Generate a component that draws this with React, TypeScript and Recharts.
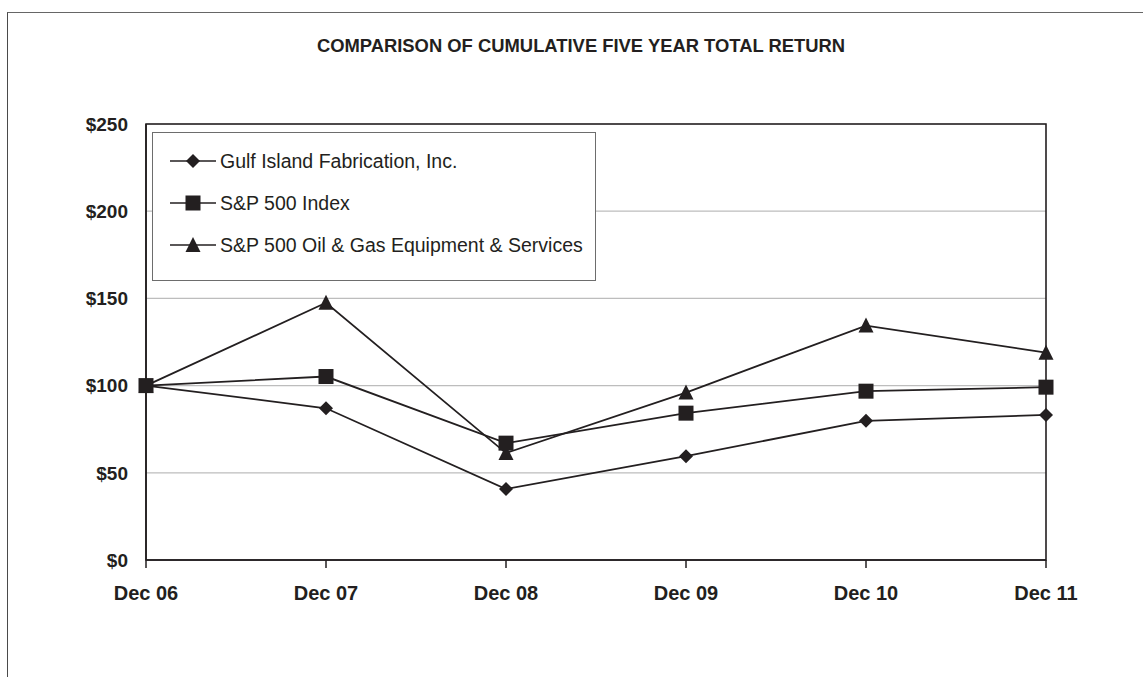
import React from 'react';
import {
  CartesianGrid,
  Legend,
  Line,
  LineChart,
  ReferenceArea,
  XAxis,
  YAxis,
} from 'recharts';

// Five-year cumulative total return, $100 invested Dec 06. Values.

const categories = ['Dec 06', 'Dec 07', 'Dec 08', 'Dec 09', 'Dec 10', 'Dec 11'];
const gulfIsland = [100, 87, 40.7, 59.5, 79.8, 83.2];
const sp500 = [100, 105.2, 67, 84.2, 96.8, 99.1];
const oilGasServices = [100, 147.5, 61.3, 96, 134.4, 118.9];
const yTicks = [0, 50, 100, 150, 200, 250];

const seriesNames = {
  gulf: 'Gulf Island Fabrication, Inc.',
  sp: 'S&P 500 Index',
  oil: 'S&P 500 Oil & Gas Equipment & Services',
};

const data = categories.map((c, i) => ({
  year: c,
  gulf: gulfIsland[i],
  sp: sp500[i],
  oil: oilGasServices[i],
}));

const INK = '#231f20';
const FONT = '"Liberation Sans", Arial, Helvetica, sans-serif';

type Mark = 'diamond' | 'square' | 'triangle';

function Marker({ kind, cx, cy }: { kind: Mark; cx: number; cy: number }) {
  if (kind === 'diamond') {
    return <polygon points={`${cx},${cy - 7} ${cx + 7},${cy} ${cx},${cy + 7} ${cx - 7},${cy}`} fill={INK} />;
  }
  if (kind === 'square') {
    return <rect x={cx - 7.5} y={cy - 7.5} width={15} height={15} fill={INK} />;
  }
  return <polygon points={`${cx},${cy - 8} ${cx + 7.5},${cy + 7} ${cx - 7.5},${cy + 7}`} fill={INK} />;
}

const dotFor = (kind: Mark) => (p: any) => (
  <Marker key={`${kind}-${p.index}`} kind={kind} cx={p.cx} cy={p.cy} />
);

const legendRows: { key: keyof typeof seriesNames; kind: Mark }[] = [
  { key: 'gulf', kind: 'diamond' },
  { key: 'sp', kind: 'square' },
  { key: 'oil', kind: 'triangle' },
];

function LegendBox() {
  return (
    <div
      style={{
        position: 'relative',
        width: 444,
        height: 149,
        boxSizing: 'border-box',
        border: '1px solid #6d6d6d',
        background: '#fff',
        fontFamily: FONT,
      }}
    >
      {legendRows.map((r, i) => (
        <div
          key={r.key}
          style={{ position: 'absolute', left: 16, top: 17 + i * 42, height: 22, display: 'flex', alignItems: 'center' }}
        >
          <svg width={48} height={22}>
            <line x1={1} y1={11} x2={47} y2={11} stroke={INK} strokeWidth={1.5} />
            <Marker kind={r.kind} cx={24} cy={11} />
          </svg>
          <span style={{ marginLeft: 3, fontSize: 19.5, color: INK, whiteSpace: 'nowrap' }}>{seriesNames[r.key]}</span>
        </div>
      ))}
    </div>
  );
}

export default function App() {
  return (
    <div style={{ position: 'fixed', left: 0, top: 0, width: 1143, height: 677, background: '#fff', overflow: 'hidden' }}>
      <div
        style={{
          position: 'absolute',
          left: 7,
          top: 12,
          width: 1200,
          height: 700,
          borderLeft: '1.5px solid #4a4a4a',
          borderTop: '1.5px solid #666',
        }}
      />
      <div
        style={{
          position: 'absolute',
          left: 281,
          top: 35,
          width: 600,
          textAlign: 'center',
          fontFamily: FONT,
          fontWeight: 700,
          fontSize: 18.4,
          color: INK,
          whiteSpace: 'nowrap',
        }}
      >
        COMPARISON OF CUMULATIVE FIVE YEAR TOTAL RETURN
      </div>
      <div style={{ position: 'absolute', left: 0, top: 0 }}>
        <LineChart
          width={1143}
          height={677}
          data={data}
          margin={{ top: 124, right: 97, bottom: 67, left: 40 }}
          style={{ fontFamily: FONT }}
        >
          <CartesianGrid horizontal vertical={false} stroke="#bdbdbd" strokeWidth={1.3} />
          <ReferenceArea
            x1="Dec 06"
            x2="Dec 11"
            y1={0}
            y2={250}
            fill="none"
            fillOpacity={0}
            stroke={INK}
            strokeWidth={1.6}
            ifOverflow="visible"
          />
          <XAxis
            dataKey="year"
            height={50}
            axisLine={{ stroke: INK, strokeWidth: 1.6 }}
            tickLine={{ stroke: INK, strokeWidth: 1.5 }}
            tickSize={8}
            tickMargin={18}
            tick={{ fontSize: 20, fontWeight: 700, fill: INK }}
            interval={0}
          />
          <YAxis
            width={106}
            domain={[0, 250]}
            ticks={yTicks}
            interval={0}
            axisLine={{ stroke: INK, strokeWidth: 1.6 }}
            tickLine={false}
            tickSize={0}
            tickMargin={18}
            tick={{ fontSize: 19, fontWeight: 700, fill: INK }}
            tickFormatter={(v) => `$${v}`}
          />
          <Legend
            layout="vertical"
            align="center"
            verticalAlign="middle"
            wrapperStyle={{ left: 152, top: 132, width: 444, height: 149 }}
            content={() => <LegendBox />}
          />
          <Line
            dataKey="oil"
            name={seriesNames.oil}
            stroke={INK}
            strokeWidth={1.8}
            dot={dotFor('triangle')}
            activeDot={false}
            isAnimationActive={false}
          />
          <Line
            dataKey="gulf"
            name={seriesNames.gulf}
            stroke={INK}
            strokeWidth={1.8}
            dot={dotFor('diamond')}
            activeDot={false}
            isAnimationActive={false}
          />
          <Line
            dataKey="sp"
            name={seriesNames.sp}
            stroke={INK}
            strokeWidth={1.8}
            dot={dotFor('square')}
            activeDot={false}
            isAnimationActive={false}
          />
        </LineChart>
      </div>
    </div>
  );
}
